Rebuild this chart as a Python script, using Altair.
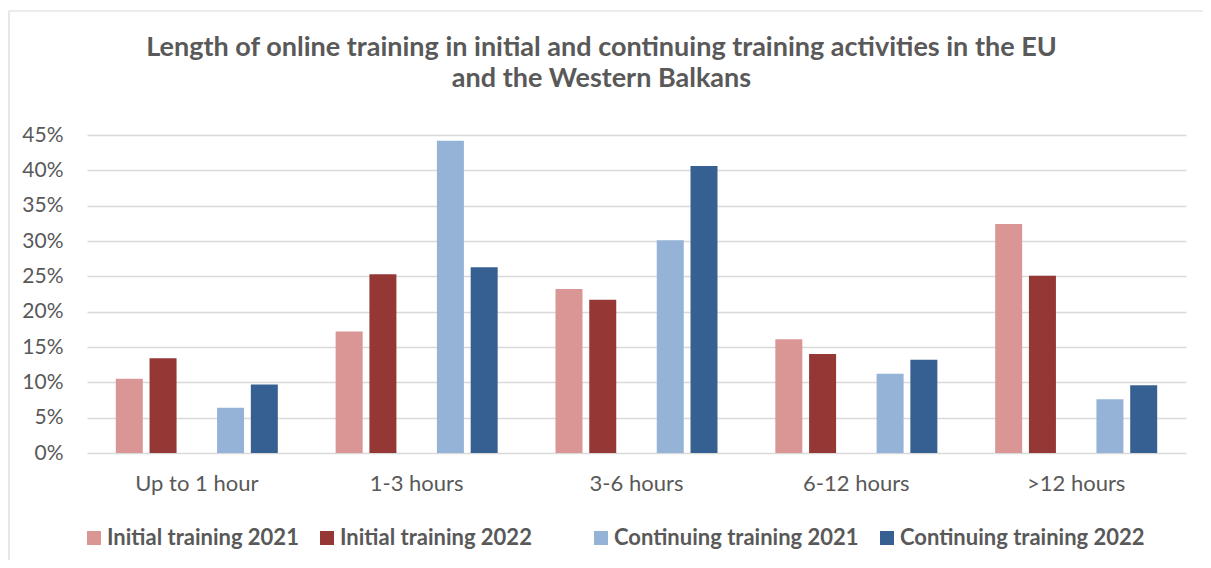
import altair as alt
import pandas as pd

categories = ["Up to 1 hour", "1-3 hours", "3-6 hours", "6-12 hours", ">12 hours"]
series = ["Initial training 2021", "Initial training 2022", "_gap",
          "Continuing training 2021", "Continuing training 2022"]
colors = ["#D99694", "#953735", "transparent", "#95B3D7", "#376092"]

initial_2021 = [0.105, 0.172, 0.232, 0.161, 0.324]
initial_2022 = [0.134, 0.253, 0.217, 0.140, 0.251]
continuing_2021 = [0.064, 0.442, 0.301, 0.112, 0.076]
continuing_2022 = [0.097, 0.263, 0.406, 0.132, 0.096]

rows = []
for name, vals in [("Initial training 2021", initial_2021),
                   ("Initial training 2022", initial_2022),
                   ("Continuing training 2021", continuing_2021),
                   ("Continuing training 2022", continuing_2022)]:
    for c, v in zip(categories, vals):
        rows.append({"category": c, "series": name, "value": v})
df = pd.DataFrame(rows)

FONT = "Lato"
GREY = "#595959"

bars = alt.Chart(df).mark_bar().encode(
    x=alt.X("category:N", sort=categories,
            scale=alt.Scale(paddingInner=0.263, paddingOuter=0.131),
            axis=alt.Axis(title=None, labelAngle=0, ticks=False, domain=False,
                          labelFont=FONT, labelFontSize=22, labelColor=GREY,
                          labelPadding=20)),
    xOffset=alt.XOffset("series:N",
                        scale=alt.Scale(domain=series, paddingInner=0.2, paddingOuter=0)),
    y=alt.Y("value:Q", scale=alt.Scale(domain=[0, 0.45], nice=False),
            axis=alt.Axis(title=None, format=".0%", values=[i * 0.05 for i in range(10)],
                          ticks=False, domain=False, labelFont=FONT, labelFontSize=21,
                          labelColor=GREY, labelPadding=24, gridColor="#D9D9D9",
                          gridWidth=1.3)),
    color=alt.Color("series:N",
                    scale=alt.Scale(domain=series, range=colors),
                    legend=alt.Legend(title=None, orient="none", direction="horizontal",
                                      legendX=-4, legendY=392, values=series,
                                      labelExpr="datum.label == '_gap' ? '' : datum.label",
                                      labelFont=FONT, labelFontSize=22, labelLimit=400,
                                      labelFontWeight="bold", labelColor=GREY,
                                      symbolType="square", symbolSize=196,
                                      symbolStrokeWidth=0, labelOffset=2,
                                      columnPadding=17, padding=0)),
)

border = alt.Chart(pd.DataFrame({"a": [0]})).mark_rect(
    fill="transparent", stroke="#D9D9D9", strokeWidth=1.2
).encode(x=alt.value(-78), x2=alt.value(1140), y=alt.value(-124), y2=alt.value(600))

chart = alt.layer(border, bars).properties(
    width=1099, height=318,
    padding={"left": 79, "top": 127, "right": 17, "bottom": 107},
    autosize=alt.AutoSizeParams(type="none"),
    title=alt.TitleParams(
        text=["Length of online training in initial and continuing training activities in the EU",
              "and the Western Balkans"],
        font=FONT, fontSize=27, fontWeight="bold", color=GREY, anchor="middle",
        dx=-35, offset=-83, lineHeight=31),
).configure_view(stroke=None)

chart.save("out.html", embed_options={"renderer": "svg", "actions": False})
